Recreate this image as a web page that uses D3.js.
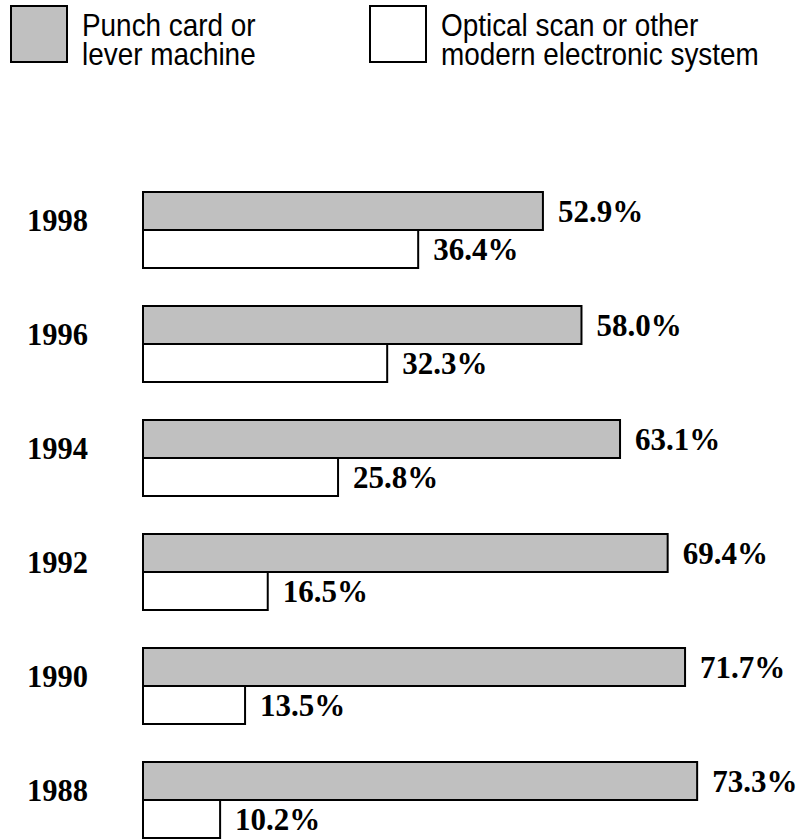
<!DOCTYPE html>
<html>
<head>
<meta charset="utf-8">
<script src="https://cdn.jsdelivr.net/npm/d3@7"></script>
<style>
  html, body { margin: 0; padding: 0; background: #fff; }
  svg { display: block; }
</style>
</head>
<body>
<svg id="chart" width="801" height="839"></svg>
<script>
const years = ["1998", "1996", "1994", "1992", "1990", "1988"];
const punchCard = [52.9, 58.0, 63.1, 69.4, 71.7, 73.3];
const opticalScan = [36.4, 32.3, 25.8, 16.5, 13.5, 10.2];
const seriesNames = ["Punch card or lever machine", "Optical scan or other modern electronic system"];
const legendLines = [["Punch card or", "lever machine"], ["Optical scan or other", "modern electronic system"]];
const seriesColors = ["#c0c0c0", "#ffffff"];

const svg = d3.select("#chart");

const x = d3.scaleLinear().domain([0, 100]).range([143, 899]);
const y = d3.scaleBand().domain(years).range([192, 838]).paddingInner(1/3).paddingOuter(0);
const ySub = d3.scaleBand().domain([0, 1]).range([0, y.bandwidth()]);

const rows = years.map((yr, i) => ({ year: yr, values: [punchCard[i], opticalScan[i]] }));

const serif = "'Liberation Serif', 'Times New Roman', serif";

const g = svg.append("g");
const groups = g.selectAll("g.year").data(rows).join("g")
  .attr("class", "year")
  .attr("transform", d => `translate(0,${y(d.year)})`);

groups.append("text")
  .attr("x", 27)
  .attr("y", ySub(1) + 1)
  .attr("font-family", serif)
  .attr("font-weight", "bold")
  .attr("font-size", 32)
  .attr("textLength", 61)
  .attr("lengthAdjust", "spacingAndGlyphs")
  .attr("fill", "#000")
  .text(d => d.year);

groups.selectAll("rect").data(d => d.values).join("rect")
  .attr("x", x(0))
  .attr("y", (v, j) => ySub(j))
  .attr("width", v => x(v) - x(0))
  .attr("height", ySub.bandwidth())
  .attr("fill", (v, j) => seriesColors[j])
  .attr("stroke", "#000")
  .attr("stroke-width", 2);

groups.selectAll("text.val").data(d => d.values).join("text")
  .attr("class", "val")
  .attr("x", v => x(v) + 15)
  .attr("y", (v, j) => ySub(j) + 30)
  .attr("font-family", serif)
  .attr("font-weight", "bold")
  .attr("font-size", 31)
  .attr("fill", "#000")
  .text(v => v.toFixed(1) + "%");

// Legend
const legendX = [11, 370];
const leg = svg.append("g").selectAll("g").data(seriesNames).join("g")
  .attr("transform", (d, i) => `translate(${legendX[i]},6)`);
leg.append("rect")
  .attr("width", 56).attr("height", 56)
  .attr("fill", (d, i) => seriesColors[i])
  .attr("stroke", "#000").attr("stroke-width", 2);
leg.each(function(d, i) {
  const t = d3.select(this).append("g")
    .attr("transform", "translate(71,0) scale(0.9,1)")
    .append("text")
    .attr("font-family", "'Liberation Sans Narrow', 'Arial Narrow', 'Liberation Sans', Arial, sans-serif")
    .attr("font-size", 31)
    .attr("fill", "#000");
  t.selectAll("tspan").data(legendLines[i]).join("tspan")
    .attr("x", 0)
    .attr("y", (l, k) => 30 + k * 29)
    .text(l => l);
});
</script>
</body>
</html>
